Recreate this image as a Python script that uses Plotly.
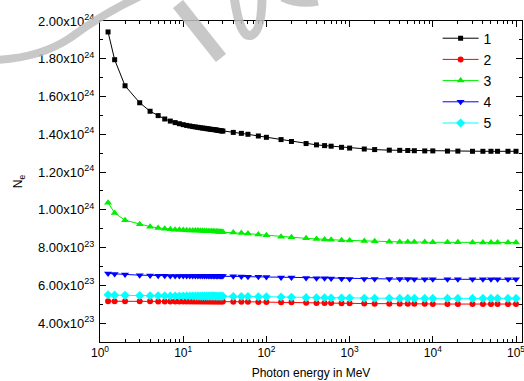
import plotly.graph_objects as go

# Photon energies (MeV)
energy = [1.25, 1.5, 2, 3, 4, 5, 6, 7, 8, 9,
          10, 11, 12, 13, 14, 15, 16, 17, 18, 19, 20,
          21, 22, 23, 24, 25, 26, 27, 28, 29, 30,
          40, 50, 60, 80, 100, 150, 200, 300, 400, 500, 600, 800,
          1000, 1500, 2000, 3000, 4000, 5000, 6000, 8000,
          10000, 15000, 20000, 30000, 40000, 50000, 60000, 80000, 100000]

# N_e values in units of 1e24
s1 = [1.942, 1.795, 1.657, 1.567, 1.522, 1.499, 1.481, 1.470, 1.462, 1.456,
      1.451, 1.447, 1.444, 1.441, 1.439, 1.437, 1.435, 1.433, 1.432, 1.430, 1.429,
      1.427, 1.426, 1.425, 1.424, 1.423, 1.421, 1.420, 1.419, 1.418, 1.417,
      1.410, 1.405, 1.400, 1.391, 1.384, 1.372, 1.362, 1.351, 1.344, 1.340, 1.337, 1.331,
      1.327, 1.322, 1.319, 1.316, 1.315, 1.314, 1.313, 1.312,
      1.312, 1.311, 1.311, 1.310, 1.310, 1.310, 1.310, 1.310, 1.310]
s2 = [0.516, 0.516, 0.516, 0.516, 0.516, 0.515, 0.515, 0.515, 0.515, 0.515,
      0.515, 0.515, 0.515, 0.515, 0.515, 0.515, 0.515, 0.515, 0.514, 0.514, 0.514,
      0.514, 0.514, 0.514, 0.514, 0.514, 0.514, 0.514, 0.514, 0.514, 0.514,
      0.513, 0.513, 0.513, 0.512, 0.512, 0.511, 0.510, 0.508, 0.507, 0.506, 0.506, 0.505,
      0.505, 0.504, 0.503, 0.503, 0.502, 0.502, 0.502, 0.502,
      0.501, 0.501, 0.501, 0.501, 0.501, 0.501, 0.501, 0.501, 0.501]
s3 = [1.038, 0.983, 0.945, 0.923, 0.911, 0.904, 0.900, 0.897, 0.895, 0.894,
      0.893, 0.892, 0.891, 0.891, 0.890, 0.890, 0.889, 0.889, 0.888, 0.888, 0.887,
      0.887, 0.886, 0.886, 0.885, 0.885, 0.885, 0.884, 0.884, 0.883, 0.883,
      0.880, 0.877, 0.874, 0.869, 0.865, 0.858, 0.855, 0.849, 0.846, 0.843, 0.842, 0.839,
      0.838, 0.835, 0.833, 0.831, 0.830, 0.830, 0.829, 0.829,
      0.828, 0.828, 0.828, 0.827, 0.827, 0.827, 0.827, 0.827, 0.827]
s4 = [0.663, 0.660, 0.658, 0.654, 0.652, 0.651, 0.651, 0.650, 0.650, 0.650,
      0.650, 0.650, 0.650, 0.650, 0.650, 0.650, 0.650, 0.650, 0.649, 0.649, 0.649,
      0.649, 0.649, 0.649, 0.649, 0.649, 0.649, 0.649, 0.649, 0.649, 0.649,
      0.648, 0.647, 0.646, 0.645, 0.644, 0.642, 0.641, 0.639, 0.638, 0.637, 0.636, 0.635,
      0.634, 0.634, 0.633, 0.633, 0.633, 0.633, 0.632, 0.632,
      0.632, 0.632, 0.632, 0.632, 0.632, 0.632, 0.632, 0.632, 0.632]
s5 = [0.550, 0.548, 0.547, 0.546, 0.545, 0.545, 0.545, 0.544, 0.544, 0.544,
      0.544, 0.544, 0.544, 0.544, 0.543, 0.543, 0.543, 0.543, 0.543, 0.543, 0.543,
      0.543, 0.543, 0.543, 0.543, 0.542, 0.542, 0.542, 0.542, 0.542, 0.542,
      0.541, 0.541, 0.541, 0.540, 0.540, 0.538, 0.537, 0.535, 0.534, 0.534, 0.533, 0.533,
      0.533, 0.532, 0.532, 0.532, 0.531, 0.531, 0.531, 0.531,
      0.531, 0.531, 0.531, 0.531, 0.531, 0.531, 0.531, 0.531, 0.531]

series_names = ["1", "2", "3", "4", "5"]
series_vals = [s1, s2, s3, s4, s5]
colors = ["#000000", "#ff0000", "#00ee00", "#0000ff", "#00ffff"]
symbols = ["square", "circle", "triangle-up", "triangle-down", "diamond"]
msizes = [5, 6, 7, 7, 7]

x_tickvals = [1, 10, 100, 1000, 10000, 100000]
x_ticktext = ["10<sup>0</sup>", "10<sup>1</sup>", "10<sup>2</sup>",
              "10<sup>3</sup>", "10<sup>4</sup>", "10<sup>5</sup>"]
x_minor = [m * d for d in [1, 10, 100, 1000, 10000] for m in range(2, 10)]

y_tickvals = [0.4, 0.6, 0.8, 1.0, 1.2, 1.4, 1.6, 1.8, 2.0]
y_ticktext = ["4.00x10<sup>23</sup>", "6.00x10<sup>23</sup>", "8.00x10<sup>23</sup>",
              "1.00x10<sup>24</sup>", "1.20x10<sup>24</sup>", "1.40x10<sup>24</sup>",
              "1.60x10<sup>24</sup>", "1.80x10<sup>24</sup>", "2.00x10<sup>24</sup>"]
y_minor = [0.3, 0.5, 0.7, 0.9, 1.1, 1.3, 1.5, 1.7, 1.9]

fig = go.Figure()
for name, vals, c, sym, ms in zip(series_names, series_vals, colors, symbols, msizes):
    fig.add_trace(go.Scatter(
        x=energy, y=vals, name=name, mode="lines+markers",
        line=dict(color=c, width=1),
        marker=dict(color=c, symbol=sym, size=ms, line=dict(width=0)),
    ))

font = "Liberation Sans, Arial, sans-serif"

# ---- watermark strokes (decoration, pixel -> paper conversion) ----
L, R, T, B = 100, 522, 21, 342
def P(px, py):
    return "%.4f,%.4f" % ((px - L) / (R - L), (B - py) / (B - T))

wm_paths = [
    ("M" + P(-5, 60) + " Q" + P(40, 58) + " " + P(70, 38) + " Q" + P(105, 12) + " " + P(145, -6), 8),
    ("M" + P(178, 4) + " L" + P(221, 58), 13),
    ("M" + P(234, -4) + " Q" + P(240, 40) + " " + P(252, 35) + " Q" + P(262, 30) + " " + P(262, -4), 9),
    ("M" + P(282, -2) + " Q" + P(300, 6) + " " + P(318, 2), 7),
]
for path, w in wm_paths:
    fig.add_shape(type="path", path=path, xref="paper", yref="paper", layer="above",
                  line=dict(color="rgba(190,190,190,0.85)", width=w))

fig.update_layout(
    width=524, height=381,
    margin=dict(l=L, r=524 - R, t=T, b=381 - B, autoexpand=False),
    paper_bgcolor="white", plot_bgcolor="white",
    font=dict(family=font, size=12, color="black"),
    showlegend=True,
    legend=dict(x=0.80, y=0.995, xanchor="left", yanchor="top",
                bgcolor="rgba(0,0,0,0)", font=dict(size=14, family=font),
                itemwidth=36, tracegroupgap=0),
    xaxis=dict(
        type="log", range=[0, 5.072], automargin=False,
        tickmode="array", tickvals=x_tickvals, ticktext=x_ticktext,
        ticks="inside", ticklen=6, tickwidth=1, tickcolor="black",
        showline=True, linecolor="black", linewidth=1, mirror="ticks",
        showgrid=False, zeroline=False, ticklabeloverflow="allow",
        tickfont=dict(size=12, family=font),
        minor=dict(tickmode="array", tickvals=x_minor, ticks="inside",
                   ticklen=3, tickcolor="black", showgrid=False),
        title=dict(text="Photon energy in MeV", font=dict(size=12, family=font), standoff=9),
    ),
    yaxis=dict(
        range=[0.3, 2.0], automargin=False,
        tickmode="array", tickvals=y_tickvals, ticktext=y_ticktext,
        ticks="inside", ticklen=6, tickwidth=1, tickcolor="black",
        showline=True, linecolor="black", linewidth=1, mirror="ticks",
        showgrid=False, zeroline=False, ticklabeloverflow="allow",
        tickfont=dict(size=13, family=font), ticklabelstandoff=2,
        minor=dict(tickmode="array", tickvals=y_minor, ticks="inside",
                   ticklen=3, tickcolor="black", showgrid=False),
        title=dict(text="N<sub>e</sub>", font=dict(size=12, family=font), standoff=12),
    ),
)

fig.write_html("out.html", config={"displayModeBar": False},
               post_script="document.body.style.margin='0';document.body.style.overflow='hidden';")
